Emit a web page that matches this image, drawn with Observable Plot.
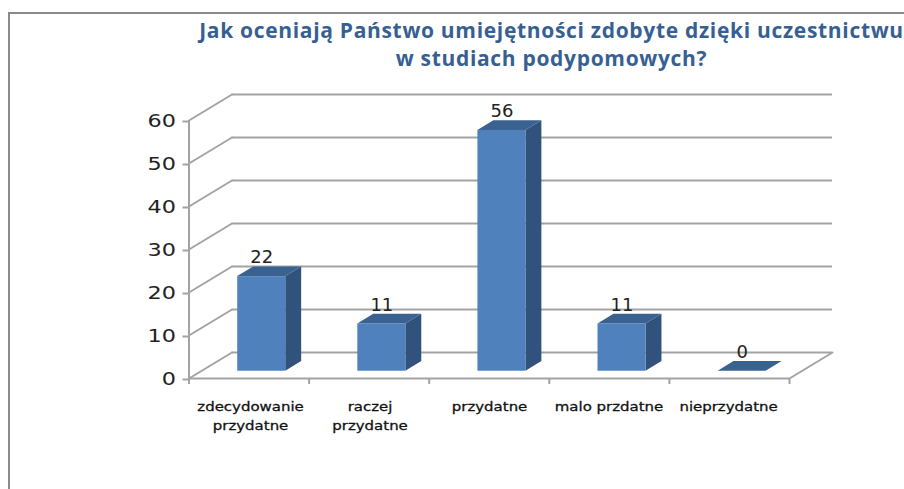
<!DOCTYPE html>
<html><head><meta charset="utf-8">
<script src="https://cdn.jsdelivr.net/npm/d3@7"></script>
<script src="https://cdn.jsdelivr.net/npm/@observablehq/plot@0.6"></script>
<style>
html,body{margin:0;padding:0;background:#fff;overflow:hidden}
#wrap{position:relative;width:904px;height:489px;overflow:hidden}
#frame{position:absolute;left:8px;top:12px;width:910px;height:490px;border:2px solid #8a8a8a;box-sizing:border-box}
#title{position:absolute;left:199px;width:705px;top:16px;text-align:center;font:bold 21px/28px "Open Sans",sans-serif;letter-spacing:.68px;color:#376092;white-space:nowrap}
#chart{position:absolute;left:0;top:0}
</style></head><body>
<div id="wrap"><div id="frame"></div>
<div id="title">Jak oceniają Państwo umiejętności zdobyte dzięki uczestnictwu<br>w studiach podypomowych?</div>
<div id="chart"></div></div>
<script>
const categories = ["zdecydowanie\nprzydatne","raczej\nprzydatne","przydatne","malo przdatne","nieprzydatne"];
const values = [22,11,56,11,0];
const yTicks = [0,10,20,30,40,50,60];

// oblique projection, in data units
const depthX = 0.358, depthY = 6.05;
const barFront = 0.295, barBack = 0.665, barHalf = 0.2;
const gridColor = "#a3a3a3";

const bars = values.map((v,i)=>({i,v,c:i+0.5+barFront*depthX,base:0.28*depthY}));
const side = bars.flatMap(b=>[0,1].map(k=>({
  i:b.i, x:b.c+barHalf+k*(barBack-barFront)*depthX,
  y1:b.base+k*(barBack-barFront)*depthY, y2:b.v+b.base+k*(barBack-barFront)*depthY})));
const top_ = bars.flatMap(b=>[0,1].map(k=>({
  i:b.i, y:b.v+b.base+k*(barBack-barFront)*depthY,
  x1:b.c-barHalf+k*(barBack-barFront)*depthX, x2:b.c+barHalf+k*(barBack-barFront)*depthX})));
const wallSides = yTicks.flatMap(t=>[{t,x:0,y:t},{t,x:depthX,y:t+depthY}]);
const floorRight = [{x:5,y:0},{x:5+depthX,y:depthY}];

const chart = Plot.plot({
  width:904,height:489,
  marginLeft:188.5,marginRight:904-789,marginTop:120,marginBottom:489-378,
  x:{type:"linear",domain:[0,5],axis:null},
  y:{type:"linear",domain:[0,60],axis:null},
  style:{background:"transparent",overflow:"visible"},
  marks:[
    Plot.ruleY(yTicks,{y:d=>d+depthY,x1:depthX,x2:5+depthX,stroke:gridColor,strokeWidth:2}),
    Plot.line(wallSides,{x:"x",y:"y",z:"t",stroke:gridColor,strokeWidth:2}),
    Plot.line(floorRight,{x:"x",y:"y",stroke:gridColor,strokeWidth:2}),
    Plot.ruleX([0],{y1:0,y2:60,stroke:gridColor,strokeWidth:2}),
    Plot.ruleY([0],{x1:0,x2:5,stroke:gridColor,strokeWidth:2}),
    Plot.axisY({ticks:yTicks,tickSize:6,tickPadding:7,stroke:gridColor,strokeWidth:2,
      color:"#222",fontSize:18,dy:1,fontFamily:"DejaVu Sans",marginLeft:188.5}),
    Plot.ruleX(d3.range(6),{x:d=>d,y1:0,y2:-1.4,stroke:gridColor,strokeWidth:2}),
    Plot.areaY(side,{x:"x",y1:"y1",y2:"y2",z:"i",fill:"#31527c"}),
    Plot.areaX(top_,{y:"y",x1:"x1",x2:"x2",z:"i",fill:"#3a6291"}),
    Plot.rect(bars,{x1:d=>d.c-barHalf,x2:d=>d.c+barHalf,y1:"base",y2:d=>d.v+d.base,fill:"#4f81bd"}),
    Plot.text(bars,{x:"c",y:d=>d.v+d.base,text:d=>String(d.v),dy:-19,fontSize:18,
      fontFamily:"DejaVu Sans",fill:"#222"}),
    Plot.text(categories,{x:(d,i)=>(i+0.5)*0.995+0.015,y:0,text:d=>d,lineHeight:1.46,
      lineAnchor:"top",dy:19,fontSize:13,fontFamily:"DejaVu Sans",fill:"#111",
      stroke:"#111",strokeWidth:0.3,className:"catlab"})
  ]
});
document.getElementById("chart").append(chart);
// the reference's labels are horizontally stretched
function widen(el,k){
  const len=el.getComputedTextLength();
  el.setAttribute("textLength",(len*k).toFixed(1));
  el.setAttribute("lengthAdjust","spacingAndGlyphs");
}
[...chart.querySelectorAll("text")]
  .filter(t=>/^\d+$/.test(t.textContent)&&t.closest("g[aria-label*='tick label']"))
  .forEach(el=>widen(el,1.24));
chart.querySelectorAll(".catlab tspan").forEach(el=>widen(el,1.15));
chart.querySelectorAll(".catlab text:not(:has(tspan))").forEach(el=>widen(el,1.15));
</script></body></html>
